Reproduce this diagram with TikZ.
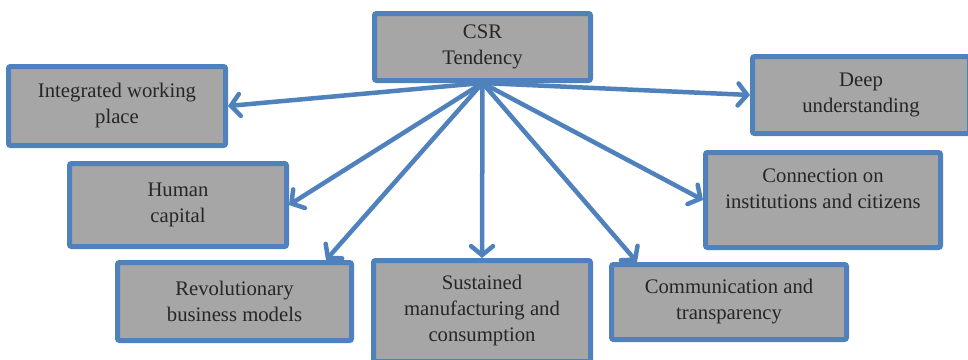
\documentclass[tikz,border=0pt]{standalone}
\usepackage{fontspec}
\setmainfont{Liberation Serif}
\newfontfamily\boxfont{Liberation Serif}
\usetikzlibrary{arrows.meta,calc}
\definecolor{boxblue}{RGB}{79,129,189}
\definecolor{boxgray}{RGB}{166,166,166}
\definecolor{boxtext}{RGB}{38,38,38}

\begin{document}
\begin{tikzpicture}[x=1pt,y=-1pt,
        box/.style={draw=boxblue,fill=boxgray,line width=5pt,rounded corners=2pt,
            align=center,text=boxtext,inner sep=0pt,
            font=\boxfont\fontsize{20.7}{26}\selectfont},
        link/.style={draw=boxblue,line width=4.5pt,line cap=round,
            -{Straight Barb[length=9pt,width=22pt,line cap=round]}}]
        \useasboundingbox (0,0) rectangle (968,359);

        \coordinate (C) at (482.5,47);
        \coordinate (IW) at (117,106);
        \coordinate (DU) at (861,95);
        \coordinate (HC) at (178,205);
        \coordinate (CI) at (823,200);
        \coordinate (RB) at (234.5,301.5);
        \coordinate (SM) at (482,311);
        \coordinate (CT) at (729,302);

        \node [box,minimum width=216,minimum height=67] (csr) at (C) {CSR\\Tendency};
        \node [box,minimum width=217,minimum height=79] (work) at (IW) {Integrated working\\place};
        \node [box,minimum width=217,minimum height=77] (deep) at (DU) {Deep\\understanding};
        \node [box,minimum width=217,minimum height=83] (human) at (HC) {Human\\capital};
        \node [box,minimum width=235,minimum height=95] (conn) at (CI) {Connection on\\institutions and citizens\\[-4pt]};
        \node [box,minimum width=234,minimum height=78] (rev) at (RB) {Revolutionary\\business models};
        \node [box,minimum width=217,minimum height=101] (sust) at (SM) {Sustained\\manufacturing and\\consumption};
        \node [box,minimum width=235,minimum height=75] (comm) at (CT) {Communication and\\transparency};

        \draw [link] (csr.south) -- (work.east);
        \draw [link] (csr.south) -- (deep.west);
        \draw [link] (csr.south) -- (human.east);
        \draw [link] (csr.south) -- (conn.west);
        \draw [link] (csr.south) -- ($(rev.north east)+(-28,0)$);
        \draw [link] (csr.south) -- (sust.north);
        \draw [link] (csr.south) -- ($(comm.north west)+(28,0)$);
    \end{tikzpicture}
\end{document}
